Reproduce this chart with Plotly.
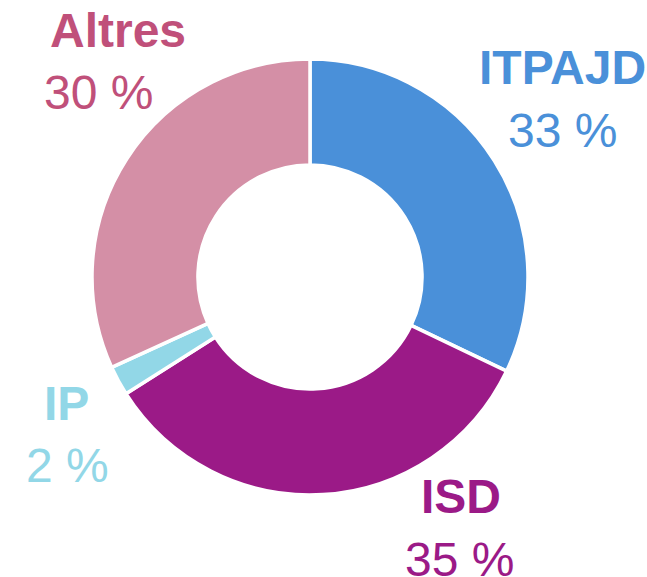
import plotly.graph_objects as go

labels = ['ITPAJD', 'ISD', 'IP', 'Altres']
values = [32.1, 33.9, 2.2, 31.8]
pct_text = ['33 %', '35 %', '2 %', '30 %']
slice_colors = ['#4A90D9', '#9B1A87', '#92D7E7', '#D48FA6']
label_colors = ['#4A90D9', '#9B1A87', '#92D7E7', '#C0507A']

W, H = 647, 577

fig = go.Figure()
fig.add_trace(go.Pie(
    labels=labels,
    values=values,
    sort=False,
    direction='clockwise',
    rotation=0,
    hole=0.514,
    textinfo='none',
    hoverinfo='label+percent',
    marker=dict(colors=slice_colors, line=dict(color='white', width=3.5)),
    domain=dict(x=[(310 - 218) / W, (310 + 218) / W],
                y=[1 - 495 / H, 1 - 59 / H]),
    showlegend=False
))

# label positions in pixels (name centre, percent centre)
name_pos = [(562, 67), (461, 496), (66, 403), (118, 30)]
pct_pos = [(562, 131), (459, 559), (67, 465), (98, 93)]

for i in range(len(labels)):
    nx, ny = name_pos[i]
    px, py = pct_pos[i]
    fig.add_annotation(x=nx / W, y=1 - ny / H, xref='paper', yref='paper',
                       text='<b>' + labels[i] + '</b>', showarrow=False,
                       xanchor='center', yanchor='middle',
                       font=dict(family='Liberation Sans, Arial', size=48, color=label_colors[i]))
    fig.add_annotation(x=px / W, y=1 - py / H, xref='paper', yref='paper',
                       text=pct_text[i], showarrow=False,
                       xanchor='center', yanchor='middle',
                       font=dict(family='Liberation Sans, Arial', size=48, color=label_colors[i]))

fig.update_layout(
    width=W, height=H,
    margin=dict(l=0, r=0, t=0, b=0),
    paper_bgcolor='white',
    plot_bgcolor='white'
)

# drop the default page margin so the chart fills the window
fig.write_html("out.html", config={'displayModeBar': False},
               post_script="document.body.style.margin='0';")
